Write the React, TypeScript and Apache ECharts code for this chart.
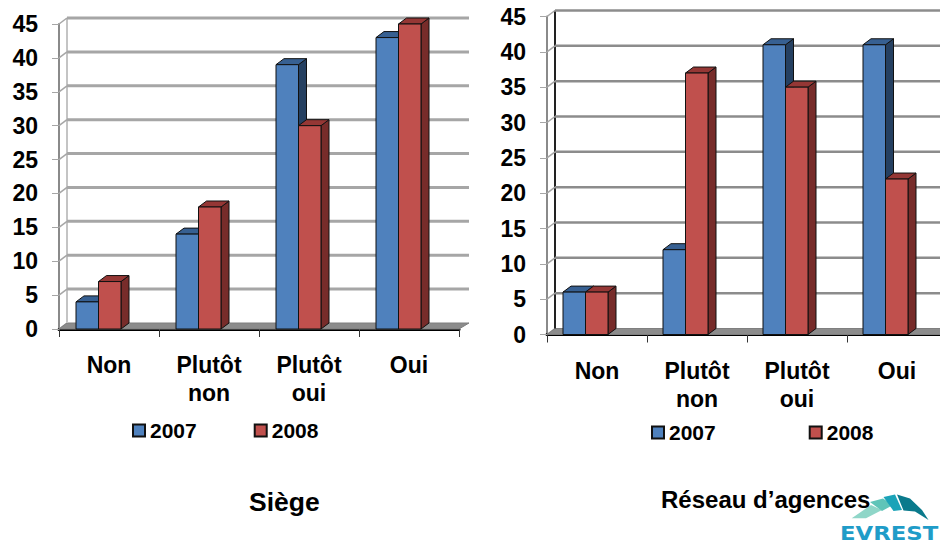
import React, { useEffect, useRef } from "react";
import * as echarts from "echarts";

const categories = ["Non", "Plutôt\nnon", "Plutôt\noui", "Oui"];
const yTicks = [0, 5, 10, 15, 20, 25, 30, 35, 40, 45];
const siege2007 = [4, 14, 39, 43];
const siege2008 = [7, 18, 30, 45];
const reseau2007 = [6, 12, 41, 41];
const reseau2008 = [6, 37, 35, 22];

const FONT = '"Liberation Sans", Arial, sans-serif';
const DX = 8;
const DY = 6;
const BLUE = { front: "#4f81bd", top: "#376092", side: "#254061" };
const RED = { front: "#c0504d", top: "#953735", side: "#772c2a" };

function wallItem(wallColor: string, lineW: number, backColor: string, clipRight: number) {
  return (params: any, api: any) => {
    const cs = params.coordSys;
    const y = api.coord([0, api.value(0)])[1];
    const x0 = cs.x;
    const x1 = Math.min(cs.x + cs.width, clipRight);
    const kids: any[] = [
      { type: "line", shape: { x1: x0, y1: y, x2: x0 + DX, y2: y - DY }, style: { stroke: "#a6a6a6", lineWidth: 1.5 } },
    ];
    if (api.value(0) > 0) {
      kids.push({
        type: "line",
        shape: { x1: x0 + DX, y1: y - DY, x2: x1 + DX + 2, y2: y - DY },
        style: { stroke: wallColor, lineWidth: lineW },
      });
    } else {
      kids.push({
        type: "polygon",
        shape: { points: [[x0, y], [x0 + DX, y - DY], [x1 + DX + 2, y - DY], [x1, y]] },
        style: { fill: "#8c8c8c", stroke: "#7f7f7f", lineWidth: 1 },
      });
    }
    if (params.dataIndex === 0) {
      kids.push({
        type: "line",
        shape: { x1: x0 + DX, y1: y - DY, x2: x0 + DX, y2: cs.y - DY },
        style: { stroke: backColor, lineWidth: 2 },
      });
    }
    return { type: "group", children: kids };
  };
}

function barItem(colors: any, fromOffset: number, width: number) {
  return (_params: any, api: any) => {
    const idx = api.value(0);
    const base = api.coord([idx, 0]);
    const top = api.coord([idx, api.value(1)]);
    const xl = base[0] + fromOffset;
    const xr = xl + width;
    const border = { stroke: "#111", lineWidth: 1 };
    return {
      type: "group",
      children: [
        {
          type: "polygon",
          shape: { points: [[xr, top[1]], [xr + DX, top[1] - DY], [xr + DX, base[1] - DY], [xr, base[1]]] },
          style: { fill: colors.side, ...border },
        },
        {
          type: "polygon",
          shape: { points: [[xl, top[1]], [xl + DX, top[1] - DY], [xr + DX, top[1] - DY], [xr, top[1]]] },
          style: { fill: colors.top, ...border },
        },
        {
          type: "rect",
          shape: { x: xl, y: top[1], width, height: base[1] - top[1] },
          style: { fill: colors.front, ...border },
        },
      ],
    };
  };
}

const legendBase = {
  data: ["2007", "2008"],
  icon: "rect",
  itemWidth: 12,
  itemHeight: 12,
  selectedMode: false,
  textStyle: { fontFamily: FONT, fontSize: 21, fontWeight: "bold", color: "#000" },
};

function cartesian(gridIndex: number) {
  return {
    x: {
      gridIndex,
      type: "category",
      data: categories,
      axisLine: { lineStyle: { color: "#000", width: 3 } },
      axisTick: { show: true, length: 8, alignWithLabel: false, lineStyle: { color: "#333", width: 1 } },
      axisLabel: { margin: 22, interval: 0, fontFamily: FONT, fontSize: 23, fontWeight: "bold", color: "#000", lineHeight: 28 },
      splitLine: { show: false },
    },
    y: {
      gridIndex,
      type: "value",
      min: 0,
      max: 45,
      interval: 5,
      axisLine: { show: true, lineStyle: { color: "#8a8a8a", width: 2 } },
      axisTick: { show: true, length: 7, lineStyle: { color: "#a6a6a6", width: 1 } },
      axisLabel: { margin: 21, fontFamily: FONT, fontSize: 23, fontWeight: "bold", color: "#000" },
      splitLine: { show: false },
    },
  };
}

function seriesFor(
  gridIndex: number,
  v07: number[],
  v08: number[],
  off: number,
  wall: string,
  wallW: number,
  back: string
) {
  const common = { type: "custom", xAxisIndex: gridIndex, yAxisIndex: gridIndex, clip: false, silent: true };
  return [
    {
      ...common,
      name: "wall" + gridIndex,
      z: 1,
      renderItem: wallItem(wall, wallW, back, 1000),
      data: yTicks.map((t) => [t]),
      encode: { y: 0 },
    },
    {
      ...common,
      name: "2007",
      z: 3,
      itemStyle: { color: BLUE.front, borderColor: "#111", borderWidth: 1 },
      renderItem: barItem(BLUE, off, 22.5),
      data: v07.map((v, i) => [i, v]),
      encode: { x: 0, y: 1 },
    },
    {
      ...common,
      name: "2008",
      z: 4,
      itemStyle: { color: RED.front, borderColor: "#111", borderWidth: 1 },
      renderItem: barItem(RED, off + 22.5, 22.5),
      data: v08.map((v, i) => [i, v]),
      encode: { x: 0, y: 1 },
    },
  ];
}

const logoSegments = [
  { fill: "#8fd6c8", points: [[851.7, 518.3], [871, 505], [882, 510], [866, 518.3]] },
  { fill: "#5fc4b8", points: [[870, 502], [883, 498.5], [893, 505], [882, 511]] },
  { fill: "#1ba3b8", points: [[883.5, 497], [895, 494.5], [902, 510], [893.5, 511]] },
  { fill: "#0a7a8c", points: [[897, 494.5], [910, 498.5], [922, 510], [928.5, 520], [915, 511.5], [903.5, 510.5]] },
];

export default function App() {
  const ref = useRef<HTMLDivElement>(null);
  useEffect(() => {
    const chart = echarts.init(ref.current!, undefined, { renderer: "svg" });
    const a = cartesian(0);
    const b = cartesian(1);
    chart.setOption({
      animation: false,
      backgroundColor: "#ffffff",
      grid: [
        { left: 59, top: 24, width: 400, height: 305, outerBoundsMode: "none" },
        { left: 547, top: 16.5, width: 400, height: 318, outerBoundsMode: "none" },
      ],
      xAxis: [a.x, b.x],
      yAxis: [a.y, b.y],
      legend: [
        { ...legendBase, left: 127, top: 415, itemGap: 57 },
        { ...legendBase, left: 646, top: 417, itemGap: 93 },
      ],
      series: [
        ...seriesFor(0, siege2007, siege2008, -33, "#a6a6a6", 3, "#c4c4c4"),
        ...seriesFor(1, reseau2007, reseau2008, -34, "#8c8c8c", 2.5, "#222222"),
      ],
      graphic: [
        ...logoSegments.map((s) => ({ type: "polygon", z: 10, shape: { points: s.points }, style: { fill: s.fill } })),
        {
          type: "text",
          z: 10,
          x: 840,
          y: 524,
          scaleX: 1.2,
          style: { text: "EVREST", fontFamily: '"DejaVu Sans", sans-serif', fontSize: 19, fontWeight: "bold", fill: "#1f9cc8" },
        },
        { type: "text", z: 11, left: 249, top: 488, style: { text: "Siège", fontFamily: FONT, fontSize: 26.5, fontWeight: "bold", fill: "#000" } },
        { type: "text", z: 11, left: 661, top: 487, style: { text: "Réseau d’agences", fontFamily: FONT, fontSize: 24, fontWeight: "bold", fill: "#000" } },
      ],
    });
    return () => chart.dispose();
  }, []);
  return <div ref={ref} style={{ position: "absolute", left: 0, top: 0, width: 940, height: 547 }} />;
}
